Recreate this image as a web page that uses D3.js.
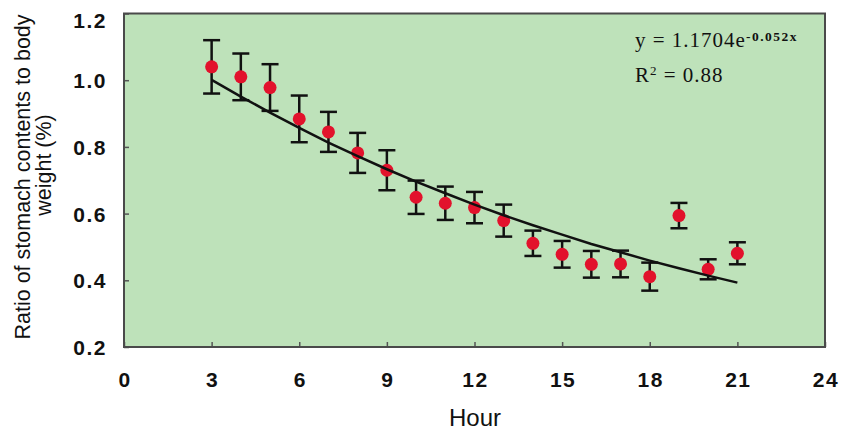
<!DOCTYPE html>
<html>
<head>
<meta charset="utf-8">
<script src="https://cdn.jsdelivr.net/npm/d3@7/dist/d3.min.js"></script>
<style>
  body { margin: 0; background: #fff; }
  svg { display: block; }
  .tick-label { font-family: Arial, "Liberation Sans", sans-serif; font-weight: bold; font-size: 21px; letter-spacing: 1.5px; fill: #111; }
  .axis-title { font-family: Arial, "Liberation Sans", sans-serif; fill: #111; }
  .eq { font-family: "Times New Roman", "Liberation Serif", serif; fill: #111; }
</style>
</head>
<body>
<svg width="845" height="432"></svg>
<script>
// hours sampled after feeding
var hours = [3, 4, 5, 6, 7, 8, 9, 10, 11, 12, 13, 14, 15, 16, 17, 18, 19, 20, 21];
// mean ratio of stomach contents to body weight (%)
var means = [1.04, 1.01, 0.978, 0.884, 0.845, 0.782, 0.73, 0.649, 0.631, 0.618, 0.579, 0.511, 0.478, 0.448, 0.449, 0.411, 0.594, 0.433, 0.481];
// error bar half-lengths
var errs = [0.08, 0.07, 0.07, 0.07, 0.06, 0.06, 0.06, 0.05, 0.05, 0.047, 0.048, 0.038, 0.04, 0.04, 0.04, 0.042, 0.038, 0.03, 0.033];
// exponential trendline values at each hour
var trendFit = [1.001, 0.951, 0.903, 0.857, 0.813, 0.772, 0.733, 0.696, 0.661, 0.627, 0.595, 0.565, 0.537, 0.509, 0.484, 0.459, 0.436, 0.414, 0.393];
var xTicks = [0, 3, 6, 9, 12, 15, 18, 21, 24];
var yTicks = [0.2, 0.4, 0.6, 0.8, 1.0, 1.2];

var svg = d3.select("svg");

var plotL = 124, plotR = 825, plotT = 13.5, plotB = 347;

var x = d3.scaleLinear().domain([0, 24]).range([plotL, plotR]);
var y = d3.scaleLinear().domain([0.2, 1.2]).range([plotB, plotT]);

// plot background
svg.append("rect")
    .attr("x", plotL)
    .attr("y", plotT)
    .attr("width", plotR - plotL)
    .attr("height", plotB - plotT)
    .style("fill", "#bee2ba");

// inside ticks, no labels (labels drawn separately)
svg.append("g")
    .attr("transform", "translate(0," + plotB + ")")
    .call(d3.axisTop(x).tickValues(xTicks).tickSize(5).tickFormat(""))
    .call(function (g) { g.select(".domain").remove(); })
    .selectAll("line").style("stroke", "#555").style("stroke-width", 1.5);

svg.append("g")
    .attr("transform", "translate(" + plotL + ",0)")
    .call(d3.axisRight(y).tickValues(yTicks).tickSize(5).tickFormat(""))
    .call(function (g) { g.select(".domain").remove(); })
    .selectAll("line").style("stroke", "#555").style("stroke-width", 1.5);

// frame
svg.append("rect")
    .attr("x", plotL)
    .attr("y", plotT)
    .attr("width", plotR - plotL)
    .attr("height", plotB - plotT)
    .style("fill", "none")
    .style("stroke", "#4a4a4a")
    .style("stroke-width", 2);

// tick labels
svg.selectAll(".xlab")
    .data(xTicks)
    .enter().append("text")
    .attr("class", "tick-label")
    .attr("x", function (d) { return x(d) + 1; })
    .attr("y", 387)
    .style("text-anchor", "middle")
    .text(function (d) { return d; });

svg.selectAll(".ylab")
    .data(yTicks)
    .enter().append("text")
    .attr("class", "tick-label")
    .attr("x", 107)
    .attr("y", function (d) { return d === 1.2 ? y(d) + 14 : y(d) + 8; })
    .style("text-anchor", "end")
    .text(function (d) { return d.toFixed(1); });

// axis titles
svg.append("text")
    .attr("class", "axis-title")
    .attr("x", 475)
    .attr("y", 426)
    .style("font-size", "24px")
    .style("text-anchor", "middle")
    .text("Hour");

svg.append("text")
    .attr("class", "axis-title")
    .attr("transform", "translate(30,177) rotate(-90)")
    .style("font-size", "21.5px")
    .style("text-anchor", "middle")
    .text("Ratio of stomach contents to body");

svg.append("text")
    .attr("class", "axis-title")
    .attr("transform", "translate(51,165) rotate(-90)")
    .style("font-size", "21.5px")
    .style("text-anchor", "middle")
    .text("weight (%)");

// error bars
var bars = svg.append("g").selectAll("g")
    .data(hours)
    .enter().append("g");

bars.append("line")
    .attr("x1", function (d) { return x(d); })
    .attr("x2", function (d) { return x(d); })
    .attr("y1", function (d, i) { return y(means[i] + errs[i]); })
    .attr("y2", function (d, i) { return y(means[i] - errs[i]); })
    .style("stroke", "#111")
    .style("stroke-width", 2.5);

[1, -1].forEach(function (s) {
    bars.append("line")
        .attr("x1", function (d) { return x(d) - 8.5; })
        .attr("x2", function (d) { return x(d) + 8.5; })
        .attr("y1", function (d, i) { return y(means[i] + s * errs[i]); })
        .attr("y2", function (d, i) { return y(means[i] + s * errs[i]); })
        .style("stroke", "#111")
        .style("stroke-width", 2.5);
});

// data points
svg.append("g").selectAll("circle")
    .data(hours)
    .enter().append("circle")
    .attr("cx", function (d) { return x(d); })
    .attr("cy", function (d, i) { return y(means[i]); })
    .attr("r", 6.5)
    .style("fill", "#e2122c");

// trendline
var line = d3.line()
    .x(function (d) { return x(d); })
    .y(function (d, i) { return y(trendFit[i]); });

svg.append("path")
    .datum(hours)
    .attr("d", line)
    .style("fill", "none")
    .style("stroke", "#111")
    .style("stroke-width", 2.5);

// equation
var eq = svg.append("text")
    .attr("class", "eq")
    .attr("x", 635)
    .attr("y", 47)
    .style("font-size", "21px")
    .style("letter-spacing", "1px");
eq.append("tspan").text("y = 1.1704e");
eq.append("tspan")
    .attr("dy", -6)
    .style("font-size", "13.5px")
    .style("font-weight", "bold")
    .style("letter-spacing", "1.5px")
    .text("-0.052x");

var r2 = svg.append("text")
    .attr("class", "eq")
    .attr("x", 635)
    .attr("y", 82)
    .style("font-size", "21px")
    .style("letter-spacing", "1px");
r2.append("tspan").text("R");
r2.append("tspan")
    .attr("dy", -7)
    .style("font-size", "13px")
    .text("2");
r2.append("tspan")
    .attr("dy", 7)
    .text(" = 0.88");
</script>
</body>
</html>
